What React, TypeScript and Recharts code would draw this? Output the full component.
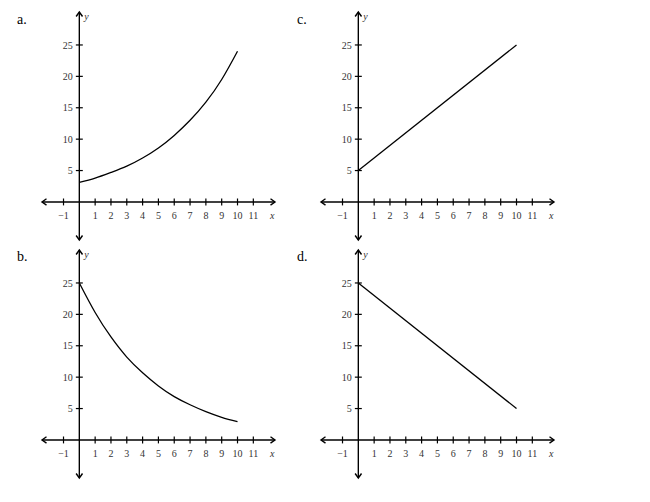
import React from 'react';
import {LineChart, Line, XAxis, YAxis, ReferenceLine, ReferenceDot} from 'recharts';

// values at x = 0..10
const xs = [0, 1, 2, 3, 4, 5, 6, 7, 8, 9, 10];
const growthA = [3.1, 3.8, 4.7, 5.7, 7.0, 8.6, 10.6, 13.0, 15.9, 19.5, 24.0];
const decayB = [25, 20.3, 16.4, 13.2, 10.7, 8.6, 6.9, 5.6, 4.5, 3.6, 2.9];
const lineXs = [0, 10];
const risingC = [5, 25];
const fallingD = [25, 5];

const xTicks = [-1, 1, 2, 3, 4, 5, 6, 7, 8, 9, 10, 11];
const yTicks = [5, 10, 15, 20, 25];
const xDomain = [-2.36, 12.37];
const yDomain = [-6.06, 30.25];

const font = '"Liberation Serif", "Times New Roman", serif';
const tickFill = '#333';

const toRows = (x: number[], y: number[]) => x.map((v, i) => ({x: v, y: y[i]}));

// axis line with an open chevron at both ends
const ArrowAxis = (props: any) => {
    const {x1, y1, x2, y2} = props;
    const dx = x2 - x1, dy = y2 - y1;
    const len = Math.hypot(dx, dy) || 1;
    const ux = dx / len, uy = dy / len;
    const h = 4.5, w = 3.2;
    const head = (px: number, py: number, sx: number, sy: number) =>
        `${px - sx * h - sy * w},${py - sy * h + sx * w} ${px},${py} ${px - sx * h + sy * w},${py - sy * h - sx * w}`;
    return (
        <g>
            <line x1={x1} y1={y1} x2={x2} y2={y2} stroke="#000" strokeWidth={1.4}/>
            <polyline points={head(x2, y2, ux, uy)} fill="none" stroke="#000" strokeWidth={1.4}/>
            <polyline points={head(x1, y1, -ux, -uy)} fill="none" stroke="#000" strokeWidth={1.4}/>
        </g>
    );
};

const labelStyle = {fontSize: 10, fill: tickFill, stroke: 'none', fontFamily: font};

const Panel = ({data, curve}: {data: {x: number, y: number}[], curve: 'natural' | 'linear'}) => (
    <LineChart width={290} height={250} data={data} margin={{top: 12, right: 15, bottom: 10, left: 42}}>
        <XAxis type="number" dataKey="x" domain={xDomain} hide allowDataOverflow/>
        <YAxis type="number" domain={yDomain} hide allowDataOverflow/>
        <ReferenceLine segment={[{x: xDomain[0], y: 0}, {x: xDomain[1], y: 0}]} ifOverflow="visible" shape={<ArrowAxis/>}/>
        <ReferenceLine segment={[{x: 0, y: yDomain[0]}, {x: 0, y: yDomain[1]}]} ifOverflow="visible" shape={<ArrowAxis/>}/>
        {xTicks.map(t => (
            <ReferenceLine key={`xt${t}`} segment={[{x: t, y: -0.55}, {x: t, y: 0.55}]} stroke="#000" strokeWidth={1.2}
                           ifOverflow="visible"
                           label={{value: t < 0 ? `\u2212${-t}` : `${t}`, position: 'bottom', offset: 6, ...labelStyle}}/>
        ))}
        {yTicks.map(t => (
            <ReferenceLine key={`yt${t}`} segment={[{x: -0.22, y: t}, {x: 0.22, y: t}]} stroke="#000" strokeWidth={1.2}
                           ifOverflow="visible"
                           label={{value: `${t}`, position: 'left', offset: 3, ...labelStyle}}/>
        ))}
        <ReferenceLine segment={[{x: 12.2, y: -0.55}, {x: 12.2, y: 0.55}]} stroke="none" ifOverflow="visible"
                       label={{value: 'x', position: 'bottom', offset: 6, ...labelStyle, fontStyle: 'italic'}}/>
        <ReferenceDot x={0} y={29.5} r={0} fill="none" stroke="none" ifOverflow="visible"
                      label={{value: 'y', position: 'right', offset: 5, ...labelStyle, fontStyle: 'italic'}}/>
        <Line type={curve} dataKey="y" stroke="#000" strokeWidth={1.3} dot={false} isAnimationActive={false}/>
    </LineChart>
);

const panels = [
    {name: 'a.', data: toRows(xs, growthA), curve: 'natural' as const, left: 0, top: 0},
    {name: 'c.', data: toRows(lineXs, risingC), curve: 'linear' as const, left: 279, top: 0},
    {name: 'b.', data: toRows(xs, decayB), curve: 'natural' as const, left: 0, top: 238},
    {name: 'd.', data: toRows(lineXs, fallingD), curve: 'linear' as const, left: 279, top: 238},
];

const App = () => (
    <div style={{position: 'absolute', left: 0, top: 0, width: 650, height: 502, background: '#fff'}}>
        {panels.map(p => (
            <div key={p.name} style={{position: 'absolute', left: p.left, top: p.top}}>
                <Panel data={p.data} curve={p.curve}/>
            </div>
        ))}
        {panels.map(p => (
            <div key={`l${p.name}`} style={{
                position: 'absolute', left: 17 + (p.left ? 280 : 0), top: p.top ? 250 : 12.5,
                fontFamily: font, fontSize: 14, lineHeight: '13px', color: '#000'
            }}>{p.name}</div>
        ))}
    </div>
);

export default App;
